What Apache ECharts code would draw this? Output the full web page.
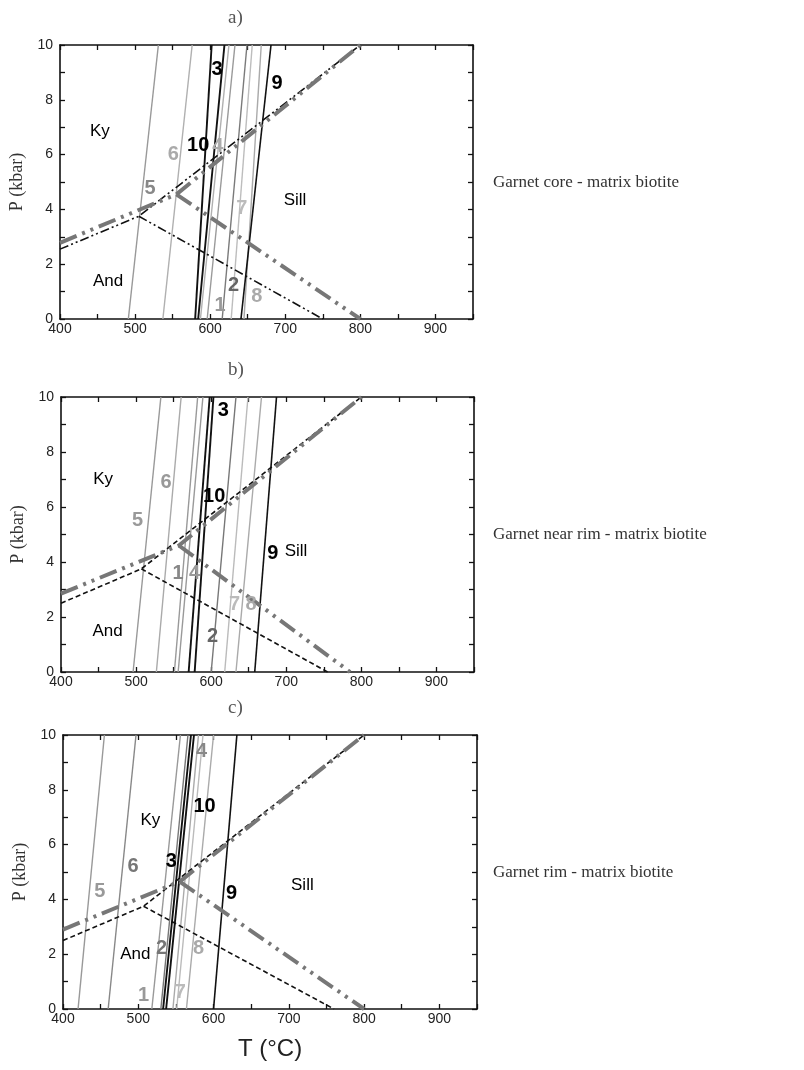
<!DOCTYPE html>
<html><head><meta charset="utf-8">
<script src="https://cdn.jsdelivr.net/npm/echarts@6/dist/echarts.min.js"></script>
<style>html,body{margin:0;padding:0;background:#fff}#c{width:804px;height:1070px}</style>
</head><body><div id="c"></div>
<script>
// ---- data ----
const isoNames = ['1','2','3','4','5','6','7','8','9','10'];
// T (°C) of each isopleth at P = 0 and P = 10 kbar
const aT0  = [596, 616, 580, 587, 491, 537, 628, 645, 641, 584];
const aT10 = [633, 649, 602, 625, 531, 576, 656, 668, 681, 619];
const bT0  = [551, 600, 578, 556, 496, 527, 618, 633, 658, 570];
const bT10 = [582, 633, 603, 589, 533, 560, 649, 667, 687, 598];
const cT0  = [518, 530, 533, 546, 420, 460, 551, 564, 600, 537];
const cT10 = [556, 566, 570, 580, 455, 497, 586, 600, 631, 574];

// Al2SiO5 triple-point diagrams: [T, P]
const aBlackKyAndSill = [[400, 2.55], [505, 3.75], [800, 10]];
const aBlackAndSill   = [[505, 3.75], [750, 0]];
const aGrayKyAndSill  = [[400, 2.78], [555, 4.55], [800, 10]];
const aGrayAndSill    = [[555, 4.55], [800, 0]];
const bBlackKyAndSill = [[400, 2.5], [507, 3.75], [800, 10]];
const bBlackAndSill   = [[507, 3.75], [755, 0]];
const bGrayKyAndSill  = [[400, 2.85], [557, 4.6], [800, 10]];
const bGrayAndSill    = [[557, 4.6], [785, 0]];
const cBlackKyAndSill = [[400, 2.5], [507, 3.75], [800, 10]];
const cBlackAndSill   = [[507, 3.75], [760, 0]];
const cGrayKyAndSill  = [[400, 2.9], [555, 4.65], [800, 10]];
const cGrayAndSill    = [[555, 4.65], [800, 0]];

// text labels: [text, T, P]
const aLabels = [['Ky',453,6.85],['And',464,1.36],['Sill',713,4.34],['3',609,9.1],['9',689,8.6],['10',584,6.35],['4',610,6.3],['6',551,6.0],['5',520,4.77],['7',642,4.04],['2',631,1.24],['8',662,0.81],['1',613,0.5]];
const bLabels = [['Ky',456,7.0],['And',462,1.47],['Sill',713,4.4],['3',616,9.5],['10',604,6.4],['6',540,6.9],['5',502,5.5],['1',556,3.6],['4',578,3.6],['9',682,4.3],['7',631,2.45],['8',653,2.45],['2',602,1.3]];
const cLabels = [['Ky',516,6.9],['And',496,2.0],['Sill',718,4.5],['4',584,9.4],['10',588,7.4],['6',493,5.2],['5',449,4.3],['3',544,5.4],['9',624,4.2],['2',531,2.2],['8',580,2.2],['1',507,0.5],['7',556,0.6]];

const xTicks = [400, 500, 600, 700, 800, 900];
const yTicks = [0, 2, 4, 6, 8, 10];
const panelTitles = ['a)', 'b)', 'c)'];
const sideTexts = ['Garnet core - matrix biotite', 'Garnet near rim - matrix biotite', 'Garnet rim - matrix biotite'];

// ---- styles ----
const isoColorA = {'1':'#9a9a9a','2':'#7a7a7a','3':'#111','4':'#b0b0b0','5':'#999','6':'#b0b0b0','7':'#bdbdbd','8':'#aaaaaa','9':'#111','10':'#111'};
const isoColorB = {'1':'#999','2':'#777','3':'#111','4':'#999','5':'#999','6':'#aaa','7':'#bbb','8':'#aaa','9':'#111','10':'#111'};
const isoColorC = {'1':'#999','2':'#777','3':'#111','4':'#aaa','5':'#999','6':'#888','7':'#bbb','8':'#aaa','9':'#111','10':'#111'};
const isoWidth = {'3':1.9,'10':1.9,'9':1.6};
const labelColor = {'Ky':'#000','And':'#000','Sill':'#000','3':'#000','9':'#000','10':'#000','2':'#666','5':'#888','1':'#999','4':'#aaa','6':'#aaa','7':'#bbb','8':'#aaa'};
const labelColorB = Object.assign({}, labelColor, {'5':'#999','6':'#999','1':'#888','4':'#999'});
const labelColorC = Object.assign({}, labelColor, {'6':'#777','5':'#999','4':'#888','2':'#777'});

const grids = [
  {left: 60, top: 45, width: 413, height: 274},
  {left: 61, top: 397, width: 413, height: 275},
  {left: 63, top: 735, width: 414, height: 274}
];

const panels = [
  {t0: aT0, t10: aT10, col: isoColorA, bk: aBlackKyAndSill, bas: aBlackAndSill, gk: aGrayKyAndSill, gas: aGrayAndSill, blackType: [9,3,2,3,2,3], labels: aLabels, lc: labelColor},
  {t0: bT0, t10: bT10, col: isoColorB, bk: bBlackKyAndSill, bas: bBlackAndSill, gk: bGrayKyAndSill, gas: bGrayAndSill, blackType: [5,3], labels: bLabels, lc: labelColorB},
  {t0: cT0, t10: cT10, col: isoColorC, bk: cBlackKyAndSill, bas: cBlackAndSill, gk: cGrayKyAndSill, gas: cGrayAndSill, blackType: [5,3], labels: cLabels, lc: labelColorC}
];

const xAxis = [], yAxis = [], series = [], graphic = [];
const sans = 'Liberation Sans, Arial, sans-serif';
const serif = 'Liberation Serif, Times New Roman, serif';

panels.forEach((p, i) => {
  const tick = {inside: true, length: 5, lineStyle: {color: '#111', width: 1.3}};
  const line = {show: true, onZero: false, lineStyle: {color: '#111', width: 1.6}};
  xAxis.push({type: 'value', gridIndex: i, min: 400, max: 950, interval: 50, position: 'bottom',
    axisLine: line, axisTick: tick, splitLine: {show: false},
    axisLabel: {margin: 3, fontFamily: sans, fontSize: 14, color: '#222',
      formatter: v => xTicks.includes(v) ? String(v) : ''},
    name: i === 2 ? 'T (°C)' : '', nameLocation: 'middle', nameGap: 28,
    nameTextStyle: {fontFamily: sans, fontSize: 24, color: '#222'}});
  xAxis.push({type: 'value', gridIndex: i, min: 400, max: 950, interval: 50, position: 'top',
    axisLine: line, axisTick: tick, splitLine: {show: false}, axisLabel: {show: false}});
  yAxis.push({type: 'value', gridIndex: i, min: 0, max: 10, interval: 1, position: 'left',
    axisLine: line, axisTick: tick, splitLine: {show: false},
    axisLabel: {margin: 7, fontFamily: sans, fontSize: 14, color: '#222',
      formatter: v => yTicks.includes(v) ? String(v) : ''},
    name: 'P (kbar)', nameLocation: 'middle', nameGap: 30,
    nameTextStyle: {fontFamily: serif, fontSize: 18, color: '#333'}});
  yAxis.push({type: 'value', gridIndex: i, min: 0, max: 10, interval: 1, position: 'right',
    axisLine: line, axisTick: tick, splitLine: {show: false}, axisLabel: {show: false}});

  const xi = i * 2, yi = i * 2;
  isoNames.forEach((n, k) => {
    series.push({type: 'line', xAxisIndex: xi, yAxisIndex: yi, silent: true, symbol: 'none',
      data: [[p.t0[k], 0], [p.t10[k], 10]],
      lineStyle: {color: p.col[n], width: isoWidth[n] || 1.4}, z: n === '3' || n === '10' || n === '9' ? 4 : 3});
  });
  [p.bk, p.bas].forEach(d => series.push({type: 'line', xAxisIndex: xi, yAxisIndex: yi, silent: true, symbol: 'none',
    data: d, lineStyle: {color: '#111', width: 1.6, type: p.blackType}, z: 5}));
  [p.gk, p.gas].forEach(d => series.push({type: 'line', xAxisIndex: xi, yAxisIndex: yi, silent: true, symbol: 'none',
    data: d, lineStyle: {color: '#777', width: 4, type: [18,6,3,6,3,6]}, z: 6}));
  series.push({type: 'scatter', xAxisIndex: xi, yAxisIndex: yi, silent: true, symbolSize: 0, z: 10,
    itemStyle: {opacity: 1},
    data: p.labels.map(l => ({value: [l[1], l[2]], name: l[0],
      label: {color: p.lc[l[0]], fontSize: /^[0-9]+$/.test(l[0]) ? 20 : 17,
        fontWeight: /^[0-9]+$/.test(l[0]) ? 'bold' : 'normal'}})),
    label: {show: true, position: 'inside', fontFamily: sans, textBorderWidth: 0, opacity: 1,
      formatter: q => q.name}});

  const g = grids[i];
  graphic.push({type: 'text', left: 228, top: g.top - 36,
    style: {text: panelTitles[i], font: '19px ' + serif, fill: '#555'}});
  graphic.push({type: 'text', left: 493, top: g.top + g.height / 2 - 8,
    style: {text: sideTexts[i], font: '17px ' + serif, fill: '#333'}});
});

const chart = echarts.init(document.getElementById('c'), null, {renderer: 'canvas'});
chart.setOption({animation: false, grid: grids, xAxis, yAxis, series, graphic});
</script></body></html>
